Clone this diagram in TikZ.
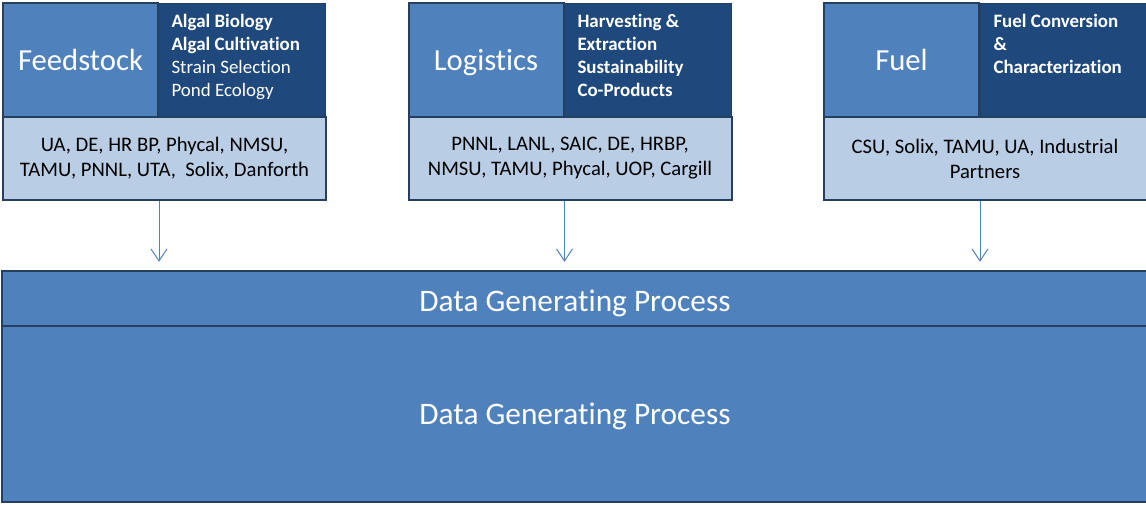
\documentclass[tikz,border=0pt]{standalone}
\usepackage{fontspec}
\setmainfont{Carlito}[Ligatures=NoCommon]
\usetikzlibrary{arrows.meta}

\definecolor{midblue}{HTML}{4F81BD}
\definecolor{deepblue}{HTML}{1F497D}
\definecolor{paleblue}{HTML}{B9CDE5}
\definecolor{edgeblue}{HTML}{243F60}

\newcommand\topiclines[1]{\parbox[c][73.5pt][t]{105pt}{\raggedright\fontsize{14.2}{17.25}\selectfont\strut#1}}
\newcommand\baseat[2]{\raisebox{-#1}[0pt][0pt]{#2}}

\begin{document}
\begin{tikzpicture}[x=0.75pt,y=-0.75pt,
  namebox/.style={draw=edgeblue,line width=1.5pt,fill=midblue,text=white,
    minimum width=116.25pt,minimum height=85.5pt,inner sep=0pt,
    font=\fontsize{23}{27}\selectfont},
  topicbox/.style={draw=edgeblue,line width=0.6pt,fill=deepblue,text=white,
    minimum width=125.25pt,minimum height=85.5pt,inner xsep=9.75pt,inner ysep=6pt},
  partnerbox/.style={draw=edgeblue,line width=1.5pt,fill=paleblue,text=black,
    minimum width=242.25pt,minimum height=62.25pt,inner sep=0pt,align=center,
    font=\fontsize{15.5}{18.75}\selectfont},
  dgpbox/.style={draw=edgeblue,line width=1.8pt,fill=midblue,text=white,
    minimum width=859.5pt,inner sep=0pt,font=\fontsize{23.5}{27}\selectfont},
  flow/.style={draw=midblue,line width=0.75pt,-{Straight Barb[length=9pt,width=12pt]},shorten >=6pt}]

  \useasboundingbox (0,0) rectangle (1146,504);

  % Feedstock
  \node[namebox] (feedName) at (80.5,60) {\baseat{8pt}{Feedstock}};
  \node[topicbox] (feedTopics) at (241.5,60)
    {\topiclines{\bfseries Algal Biology\\Algal Cultivation\\\mdseries Strain Selection\\Pond Ecology}};
  \node[partnerbox] (feedPartners) at (164.5,158.5)
    {UA, DE, HR BP, Phycal, NMSU,\\TAMU, PNNL, UTA,\ \ Solix, Danforth};

  % Logistics
  \node[namebox] (logName) at (486,60) {\baseat{8pt}{Logistics}};
  \node[topicbox] (logTopics) at (647.5,60)
    {\topiclines{\bfseries Harvesting \&\\Extraction\\Sustainability\\Co-Products}};
  \node[partnerbox] (logPartners) at (570,158.5)
    {PNNL, LANL, SAIC, DE, HRBP,\\NMSU, TAMU, Phycal, UOP, Cargill};

  % Fuel
  \node[namebox] (fuelName) at (901.5,60) {\baseat{8pt}{Fuel}};
  \node[topicbox] (fuelTopics) at (1063.5,60)
    {\topiclines{\bfseries Fuel Conversion\\\&\\Characterization}};
  \node[partnerbox] (fuelPartners) at (985,158.5)
    {CSU, Solix, TAMU, UA, Industrial\\Partners};

  \node[dgpbox,minimum height=41.25pt] (dgpBand) at (575,298.5) {\baseat{9.4pt}{Data Generating Process}};
  \node[dgpbox,minimum height=132pt] (dgpBody) at (575,414) {\baseat{7.7pt}{Data Generating Process}};

  \draw[flow] (feedName.east |- feedPartners.south) -- (feedName.east |- dgpBand.north);
  \draw[flow] (logName.east |- logPartners.south) -- (logName.east |- dgpBand.north);
  \draw[flow] (fuelName.east |- fuelPartners.south) -- (fuelName.east |- dgpBand.north);

\end{tikzpicture}
\end{document}
